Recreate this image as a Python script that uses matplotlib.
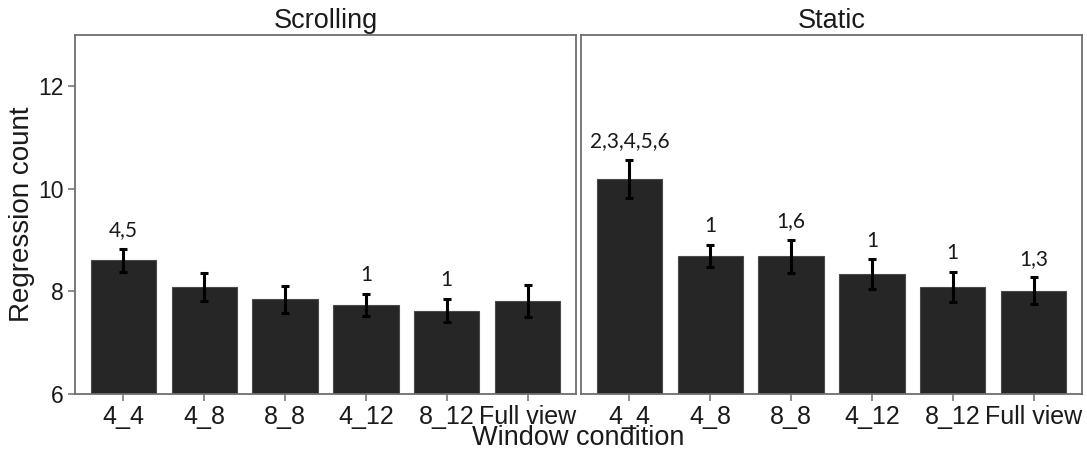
import numpy as np
import matplotlib

matplotlib.use("Agg")
import matplotlib.pyplot as plt

# regression counts per window condition, mean and standard error
conditions = ["4_4", "4_8", "8_8", "4_12", "8_12", "Full view"]
panels = ["Scrolling", "Static"]

scrolling_mean = [8.60, 8.08, 7.84, 7.73, 7.62, 7.81]
scrolling_se = [0.23, 0.27, 0.26, 0.22, 0.23, 0.32]
scrolling_sig = ["4,5", "", "", "1", "1", ""]

static_mean = [10.19, 8.69, 8.68, 8.33, 8.08, 8.01]
static_se = [0.38, 0.22, 0.32, 0.29, 0.30, 0.26]
static_sig = ["2,3,4,5,6", "1", "1,6", "1", "1", "1,3"]

means = [scrolling_mean, static_mean]
ses = [scrolling_se, static_se]
sigs = [scrolling_sig, static_sig]

W, H = 1087, 454
plt.rcParams["font.family"] = ["Liberation Sans", "DejaVu Sans"]
fig = plt.figure(figsize=(W / 100, H / 100), dpi=100)

frame_col = "#6e6e6e"
text_col = "#1a1a1a"

lefts = [75, 581]
for i, name in enumerate(panels):
    ax = fig.add_axes([lefts[i] / W, 1 - 393.7 / H, 501 / W, (393.7 - 35) / H])
    x = np.arange(len(conditions))
    m = np.array(means[i])
    s = np.array(ses[i])
    ax.bar(x, m - 6, bottom=6, width=0.81, color="#262626",
           edgecolor="#4a4a4a", linewidth=0.8, zorder=2)
    ax.errorbar(x, m, yerr=s, fmt="none", ecolor="black", elinewidth=2.2,
                capsize=3.2, capthick=2.2, zorder=3)
    # significance labels sit just above each error bar
    for xi, yi, lab in zip(x, m + s, sigs[i]):
        if lab:
            ax.text(xi, yi + 0.36, lab, ha="center", va="center",
                    fontsize=15, family=["Lato", "DejaVu Sans"], color=text_col)

    ax.set_xlim(-0.6, 5.6)
    ax.set_ylim(6, 13)
    ax.set_xticks(x)
    ax.set_xticklabels(conditions)
    ax.set_yticks([6, 8, 10, 12])
    for sp in ax.spines.values():
        sp.set_color(frame_col)
        sp.set_linewidth(1.3)
    ax.tick_params(axis="both", colors=frame_col, labelcolor=text_col,
                   length=5, width=1.1)
    ax.tick_params(axis="x", labelsize=18, pad=3)
    ax.tick_params(axis="y", labelsize=16.5, pad=3)
    if i > 0:
        ax.tick_params(axis="y", left=False, labelleft=False)
    ax.set_title(name, fontsize=19.5, color=text_col, pad=5)

fig.text(22 / W, 1 - 214 / H, "Regression count", rotation=90, ha="center",
         va="center", fontsize=20, color=text_col)
fig.text(578.5 / W, 1 - 445 / H, "Window condition", ha="center", va="baseline",
         fontsize=19.5, color=text_col)

fig.savefig("out.png", dpi=100)
